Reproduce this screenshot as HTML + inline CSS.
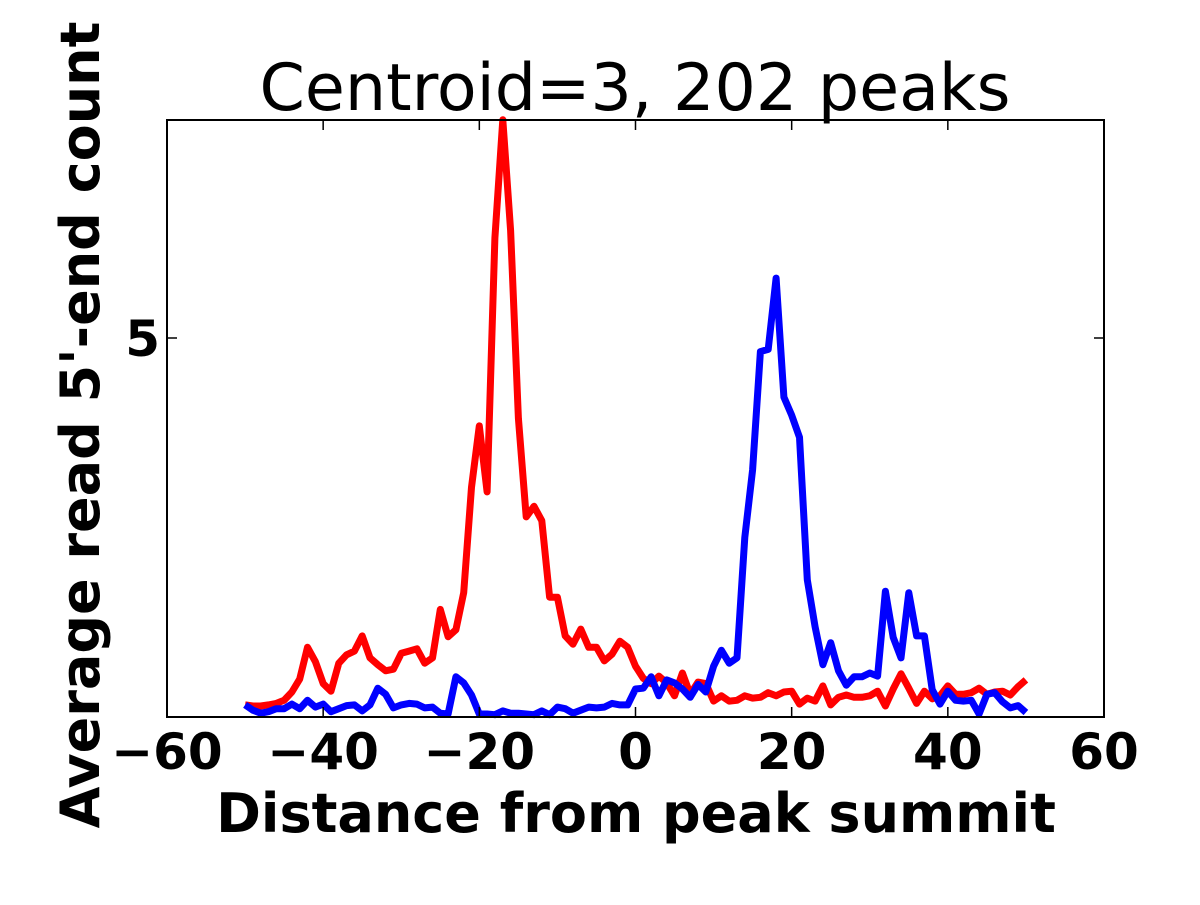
<!DOCTYPE html>
<html><head><meta charset="utf-8"><style>
html,body{margin:0;padding:0;background:#fff;}
svg text{font-family:"DejaVu Sans","Liberation Sans",sans-serif;}
</style></head><body>
<svg id="chart" width="1200" height="900" viewBox="0 0 1200 900" xmlns="http://www.w3.org/2000/svg">
<rect width="1200" height="900" fill="#fff"/>
<text x="635" y="110" font-size="65" text-anchor="middle">Centroid=3, 202 peaks</text>
<g id="plot"></g>
<rect x="167" y="120" width="937" height="597" fill="none" stroke="#000" stroke-width="2"/>
<g id="ticks"></g>
<text x="636" y="832" font-size="54" font-weight="bold" text-anchor="middle">Distance from peak summit</text>
<text transform="translate(99,425) rotate(-90)" font-size="54" font-weight="bold" text-anchor="middle">Average read 5'-end count</text>
</svg>
<script>
const xStart = -50;
const redValues = [0.16,0.145,0.145,0.16,0.18,0.22,0.33,0.50,0.92,0.73,0.44,0.34,0.71,0.82,0.87,1.07,0.78,0.69,0.61,0.63,0.84,0.87,0.90,0.71,0.78,1.42,1.06,1.15,1.64,3.03,3.84,2.97,6.32,7.88,6.42,3.94,2.64,2.78,2.59,1.58,1.58,1.07,0.96,1.16,0.92,0.92,0.74,0.83,1.00,0.92,0.67,0.51,0.44,0.54,0.45,0.28,0.58,0.30,0.46,0.44,0.21,0.28,0.21,0.22,0.28,0.25,0.26,0.32,0.28,0.33,0.34,0.17,0.25,0.21,0.41,0.16,0.26,0.29,0.26,0.26,0.28,0.34,0.145,0.37,0.57,0.38,0.18,0.34,0.24,0.28,0.41,0.30,0.30,0.32,0.38,0.30,0.33,0.34,0.29,0.40,0.49];
const blueValues = [0.16,0.09,0.05,0.07,0.11,0.11,0.17,0.11,0.22,0.13,0.17,0.07,0.11,0.15,0.16,0.08,0.16,0.38,0.30,0.12,0.16,0.18,0.17,0.12,0.13,0.05,0.04,0.53,0.45,0.29,0.04,0.04,0.03,0.08,0.05,0.05,0.04,0.03,0.08,0.03,0.13,0.11,0.05,0.09,0.13,0.12,0.13,0.18,0.16,0.16,0.37,0.38,0.53,0.28,0.49,0.45,0.37,0.26,0.43,0.33,0.67,0.88,0.71,0.78,2.37,3.26,4.82,4.85,5.79,4.22,3.98,3.69,1.81,1.19,0.69,0.98,0.61,0.42,0.53,0.53,0.58,0.54,1.66,1.05,0.78,1.64,1.07,1.07,0.36,0.17,0.34,0.22,0.21,0.22,0.04,0.30,0.32,0.20,0.12,0.15,0.06];
const xTicks = [-60,-40,-20,0,20,40,60];
const xTickLabels = ["\u221260","\u221240","\u221220","0","20","40","60"];
const yTicks = [5];
const yTickLabels = ["5"];
const X0=167,X1=1104,Y0=717,Y1=120, XMIN=-60,XMAX=60,YMIN=0,YMAX=7.876;
const sx=v=>X0+(v-XMIN)/(XMAX-XMIN)*(X1-X0);
const sy=v=>Y0-(v-YMIN)/(YMAX-YMIN)*(Y0-Y1);
const NS="http://www.w3.org/2000/svg";
const plot=document.getElementById('plot'), ticks=document.getElementById('ticks');
function line(vals,color,name){
  const p=document.createElementNS(NS,'polyline');
  p.setAttribute('points',vals.map((v,i)=>sx(xStart+i).toFixed(1)+','+sy(v).toFixed(1)).join(' '));
  p.setAttribute('fill','none');p.setAttribute('stroke',color);p.setAttribute('stroke-width','7');p.setAttribute('stroke-linejoin','round');
  
  
  plot.appendChild(p);
}
line(redValues,'#ff0000','red-series-line');
line(blueValues,'#0000ff','blue-series-line');
xTicks.forEach((t,i)=>{
  const x=sx(t);
  const l=document.createElementNS(NS,'path');
  l.setAttribute('d',`M${x},${Y0}v-10M${x},${Y1}v10`);l.setAttribute('stroke','#000');l.setAttribute('stroke-width','1.5');
  
  
  ticks.appendChild(l);
  const tx=document.createElementNS(NS,'text');
  tx.setAttribute('x',x);tx.setAttribute('y',769);tx.setAttribute('font-size','50');tx.setAttribute('font-weight','bold');tx.setAttribute('text-anchor','middle');
  tx.textContent=xTickLabels[i];
  
  
  ticks.appendChild(tx);
});
yTicks.forEach((t,i)=>{
  const y=sy(t);
  const l=document.createElementNS(NS,'path');
  l.setAttribute('d',`M${X0},${y}h10M${X1},${y}h-10`);l.setAttribute('stroke','#000');l.setAttribute('stroke-width','1.5');
  
  
  ticks.appendChild(l);
  const tx=document.createElementNS(NS,'text');
  tx.setAttribute('x',160);tx.setAttribute('y',y+18);tx.setAttribute('font-size','50');tx.setAttribute('font-weight','bold');tx.setAttribute('text-anchor','end');
  tx.textContent=yTickLabels[i];
  
  
  ticks.appendChild(tx);
});
</script>
</body></html>
